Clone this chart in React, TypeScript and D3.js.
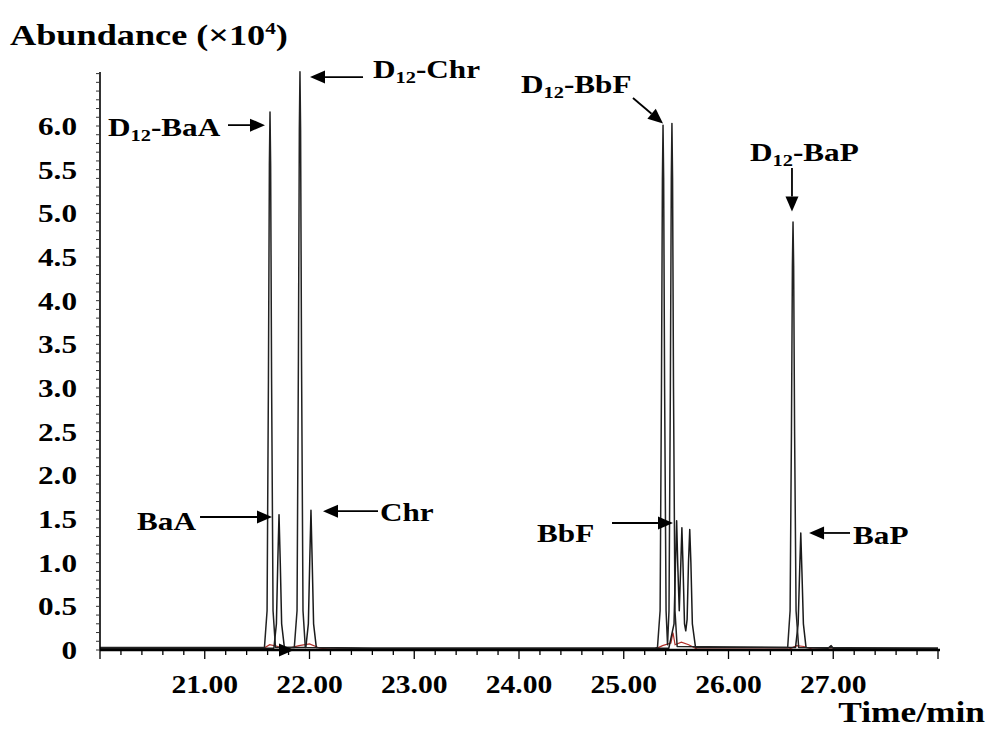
import React, { useEffect, useRef } from 'react';
import * as d3 from 'd3';

// internal standard SIM trace (D12 compounds), [time(min), abundance(x10^4)]
const istdTrace: [number, number][] = [
  [20.0, 0.03], [21.57, 0.03], [21.595, 0.45], [21.608, 3.1], [21.617, 5.55], [21.623, 6.16],
  [21.629, 5.55], [21.638, 3.1], [21.652, 0.45], [21.675, 0.03],
  [21.855, 0.03], [21.881, 0.45], [21.894, 3.3], [21.903, 5.95], [21.909, 6.62], [21.915, 5.95],
  [21.924, 3.3], [21.938, 0.45], [21.96, 0.03], [22.5, 0.02], [25.3, 0.02],
  [25.322, 0.03], [25.347, 0.45], [25.36, 3.0], [25.369, 5.4], [25.375, 6.01], [25.381, 5.4],
  [25.39, 3.0], [25.404, 0.45], [25.418, 0.06], [25.432, 0.45], [25.445, 3.0], [25.454, 5.4],
  [25.46, 6.03], [25.466, 5.4], [25.475, 3.0], [25.489, 0.45], [25.51, 0.04],
  [26.565, 0.03], [26.588, 0.45], [26.601, 2.5], [26.61, 4.4], [26.616, 4.9], [26.622, 4.4],
  [26.631, 2.5], [26.645, 0.45], [26.67, 0.03], [28.0, 0.02],
];

// native PAH trace
const nativeTrace: [number, number][] = [
  [20.0, 0.02], [21.66, 0.02], [21.684, 0.3], [21.697, 1.0], [21.709, 1.55], [21.721, 1.0],
  [21.734, 0.3], [21.76, 0.03], [21.965, 0.03], [21.989, 0.3], [22.002, 1.0], [22.014, 1.6],
  [22.026, 1.0], [22.039, 0.3], [22.065, 0.03], [22.6, 0.02], [25.43, 0.02],
  [25.48, 0.3], [25.494, 1.0], [25.505, 1.48], [25.515, 1.0], [25.53, 0.45], [25.545, 1.0],
  [25.555, 1.4], [25.565, 1.0], [25.58, 0.3], [25.592, 0.22], [25.605, 0.35], [25.618, 1.0],
  [25.63, 1.38], [25.641, 1.0], [25.655, 0.3], [25.685, 0.03], [26.64, 0.03], [26.665, 0.3],
  [26.679, 0.9], [26.69, 1.34], [26.701, 0.9], [26.715, 0.3], [26.74, 0.03], [26.95, 0.02],
  [26.98, 0.05], [27.0, 0.02], [28.0, 0.02],
];

// low-level trace drawn in red
const blankTrace: [number, number][] = [
  [20.0, 0.01], [21.55, 0.01], [21.62, 0.06], [21.7, 0.04], [21.8, 0.02], [21.9, 0.05],
  [22.0, 0.07], [22.1, 0.02], [22.2, 0.01], [25.3, 0.01], [25.37, 0.05], [25.45, 0.08],
  [25.47, 0.2], [25.49, 0.06], [25.55, 0.09], [25.62, 0.06], [25.7, 0.01], [26.58, 0.01],
  [26.65, 0.05], [26.72, 0.04], [26.8, 0.01], [28.0, 0.01],
];

const yTickLabels = ['0', '0.5', '1.0', '1.5', '2.0', '2.5', '3.0', '3.5', '4.0', '4.5', '5.0', '5.5', '6.0'];
const xTickLabels = ['21.00', '22.00', '23.00', '24.00', '25.00', '26.00', '27.00'];

// peak labels: [prefix, subscript, rest]
const peakNames: [string, string, string][] = [
  ['D', '12', '-BaA'], ['D', '12', '-Chr'], ['D', '12', '-BbF'], ['D', '12', '-BaP'],
  ['BaA', '', ''], ['Chr', '', ''], ['BbF', '', ''], ['BaP', '', ''],
];
// arrows [tailTime, tailAbund, tipTime, tipAbund]
const arrowPts: [number, number, number, number][] = [
  [21.222, 6.01, 21.575, 6.01], [22.511, 6.56, 22.005, 6.56], [25.088, 6.32, 25.375, 6.03],
  [26.606, 5.52, 26.606, 5.02], [20.955, 1.523, 21.642, 1.523], [22.654, 1.59, 22.129, 1.59],
  [24.888, 1.454, 25.47, 1.454], [27.16, 1.34, 26.769, 1.34],
];

const W = 989;
const H = 733;
const FONT = '"Liberation Serif", "Times New Roman", serif';

const App: React.FC = () => {
  const svgRef = useRef<SVGSVGElement>(null);

  useEffect(() => {
    if (!svgRef.current) return;
    const svg = d3.select(svgRef.current);
    svg.selectAll('*').remove();

    const x = d3.scaleLinear().domain([20, 28]).range([100, 938]);
    const y = d3.scaleLinear().domain([0, 6.0]).range([650, 126]);
    const yTop = 72;

    const line = d3.line<[number, number]>()
      .x(d => x(d[0]))
      .y(d => y(d[1]));

    // bold serif text, stretched horizontally like the scanned figure
    const addText = (px: number, py: number, size: number, sx: number, anchor = 'start') =>
      svg.append('text')
        .attr('transform', `translate(${px},${py}) scale(${sx},1)`)
        .attr('text-anchor', anchor)
        .style('font-family', FONT).style('font-weight', 'bold')
        .style('font-size', `${size}px`).attr('fill', '#000');

    // traces
    svg.append('path').datum(blankTrace).attr('d', line)
      .attr('fill', 'none').attr('stroke', '#b0302a').attr('stroke-width', 1.2);
    svg.append('path').datum(nativeTrace).attr('d', line)
      .attr('fill', 'none').attr('stroke', '#1a1a1a').attr('stroke-width', 1.5)
      .attr('stroke-linejoin', 'round');
    svg.append('path').datum(istdTrace).attr('d', line)
      .attr('fill', 'none').attr('stroke', '#222').attr('stroke-width', 1.5)
      .attr('stroke-linejoin', 'round');

    // y axis
    svg.append('line').attr('x1', 100).attr('x2', 100).attr('y1', yTop).attr('y2', 650)
      .attr('stroke', '#000').attr('stroke-width', 1.6);
    const minorY = d3.range(0, 67).map(i => i / 10);
    svg.append('g').selectAll('line').data(minorY).join('line')
      .attr('x1', 96).attr('x2', 100)
      .attr('y1', d => y(d)).attr('y2', d => y(d))
      .attr('stroke', '#333').attr('stroke-width', 1);
    yTickLabels.forEach(d => {
      addText(77, y(+d) + 9, 26, 1.2, 'end').text(d);
    });

    // x axis
    svg.append('line').attr('x1', 100).attr('x2', 940).attr('y1', 650).attr('y2', 650)
      .attr('stroke', '#000').attr('stroke-width', 2.5);
    const minorX = d3.range(0, 41).map(i => 20 + i * 0.2);
    svg.append('g').selectAll('line').data(minorX).join('line')
      .attr('x1', d => x(d)).attr('x2', d => x(d))
      .attr('y1', 650).attr('y2', d => (Math.abs(d - Math.round(d)) < 1e-6 ? 659 : 655))
      .attr('stroke', '#000').attr('stroke-width', 1.3);
    xTickLabels.forEach(d => {
      addText(x(+d), 693, 26, 1.14, 'middle').text(d);
    });

    // axis titles
    const title = addText(10, 45, 29, 1.25);
    title.append('tspan').text('Abundance (×10');
    title.append('tspan').attr('dy', -11).style('font-size', '17px').text('4');
    title.append('tspan').attr('dy', 11).text(')');
    addText(985, 722, 29, 1.22, 'end').text('Time/min');

    // peak labels
    const labelPos: [number, number][] = [
      [108, 136], [373, 78], [521, 93], [750, 161],
      [137, 530], [380, 521], [537, 542], [853, 544],
    ];
    peakNames.forEach(([a, sub, rest], i) => {
      const t = addText(labelPos[i][0], labelPos[i][1], 26, 1.2);
      t.append('tspan').text(a);
      if (sub) {
        t.append('tspan').attr('dy', 5).style('font-size', '17px').text(sub);
        t.append('tspan').attr('dy', -5).text(rest);
      }
    });

    // arrows
    const drawArrow = (x1: number, y1: number, x2: number, y2: number) => {
      const ang = Math.atan2(y2 - y1, x2 - x1);
      const hl = 15;
      const hw = 6.5;
      const bx = x2 - hl * Math.cos(ang);
      const by = y2 - hl * Math.sin(ang);
      svg.append('line').attr('x1', x1).attr('y1', y1).attr('x2', bx).attr('y2', by)
        .attr('stroke', '#000').attr('stroke-width', 1.8);
      const px = -Math.sin(ang) * hw;
      const py = Math.cos(ang) * hw;
      svg.append('polygon')
        .attr('points', `${x2},${y2} ${bx + px},${by + py} ${bx - px},${by - py}`)
        .attr('fill', '#000');
    };
    arrowPts.forEach(([t1, v1, t2, v2]) => drawArrow(x(t1), y(v1), x(t2), y(v2)));
    // small arrowhead on the baseline
    drawArrow(x(21.7), y(0), x(21.852), y(0));
  }, []);

  return (
    <svg ref={svgRef} width={W} height={H}
      style={{ position: 'absolute', left: 0, top: 0, background: '#fff' }} />
  );
};

export default App;
